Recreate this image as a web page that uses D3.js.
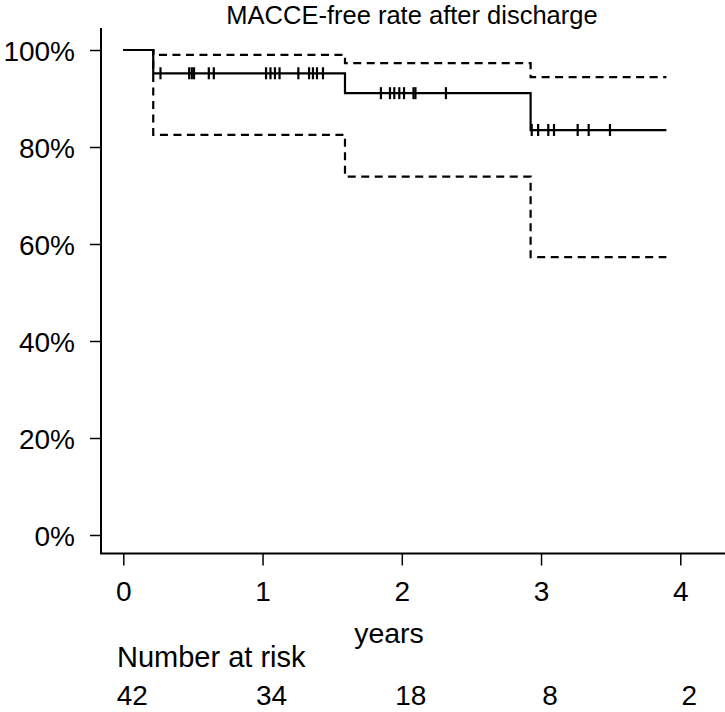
<!DOCTYPE html>
<html>
<head>
<meta charset="utf-8">
<script src="https://cdn.jsdelivr.net/npm/d3@7"></script>
<style>
  html, body { margin: 0; padding: 0; background: #fff; }
  svg text { font-family: "Liberation Sans", Arial, Helvetica, sans-serif; fill: #000; }
</style>
</head>
<body>
<svg id="chart" width="725" height="712"></svg>
<script>
// ---- data ----
const title = "MACCE-free rate after discharge";
const xLabel = "years";
const riskLabel = "Number at risk";
const xTicks = [0, 1, 2, 3, 4];
const yTicks = [0, 0.2, 0.4, 0.6, 0.8, 1.0];
const stepTimes = [0, 0.215, 1.592, 2.925];
const survival = [1, 0.952, 0.911, 0.835];
const upperCI = [1, 0.990, 0.973, 0.944];
const lowerCI = [1, 0.825, 0.739, 0.573];
const endTime = 3.90;
const censorTimes = [0.267, 0.473, 0.492, 0.508, 0.614, 0.650, 1.025, 1.057, 1.089, 1.122,
  1.257, 1.334, 1.362, 1.391, 1.434, 1.850, 1.915, 1.946, 1.982, 2.016, 2.084, 2.098, 2.317,
  2.933, 2.979, 3.052, 3.093, 3.263, 3.342, 3.495];
const riskTimes = [0, 1, 2, 3, 4];
const atRisk = [42, 34, 18, 8, 2];

// ---- layout ----
const svg = d3.select("#chart");
const x = d3.scaleLinear().domain([0, 4]).range([123.3, 680.3]);
const y = d3.scaleLinear().domain([0, 1]).range([535, 50]);
const axisX = 101, axisY = 553.5;

function stepData(vals) {
  const pts = stepTimes.map((t, i) => [t, vals[i]]);
  pts.push([endTime, vals[vals.length - 1]]);
  return pts;
}
const line = d3.line().x(d => x(d[0])).y(d => y(d[1])).curve(d3.curveStepAfter);

// frame lines
svg.append("line").attr("x1", axisX).attr("x2", axisX).attr("y1", 28).attr("y2", axisY)
  .attr("stroke", "#000").attr("stroke-width", 2);
svg.append("line").attr("x1", axisX - 1).attr("x2", 725).attr("y1", axisY).attr("y2", axisY)
  .attr("stroke", "#000").attr("stroke-width", 2);

// y axis
const gy = svg.append("g").attr("transform", `translate(${axisX},0)`)
  .call(d3.axisLeft(y).tickValues(yTicks).tickFormat(d3.format(".0%")).tickSize(11).tickPadding(15));
gy.select(".domain").remove();
gy.selectAll(".tick line").attr("stroke", "#000").attr("stroke-width", 1.5);
gy.selectAll(".tick text").attr("font-size", 28).attr("dy", "0.36em")
  .style("font-family", '"Liberation Sans", Arial, sans-serif');

// x axis
const gx = svg.append("g").attr("transform", `translate(0,${axisY})`)
  .call(d3.axisBottom(x).tickValues(xTicks).tickFormat(d3.format("d")).tickSize(12).tickPadding(16));
gx.select(".domain").remove();
gx.selectAll(".tick line").attr("stroke", "#000").attr("stroke-width", 1.5);
gx.selectAll(".tick text").attr("font-size", 28).attr("dy", "0.71em")
  .style("font-family", '"Liberation Sans", Arial, sans-serif');

// CI lines
[upperCI, lowerCI].forEach(v => {
  svg.append("path").attr("d", line(stepData(v))).attr("fill", "none")
    .attr("stroke", "#000").attr("stroke-width", 2.2).attr("stroke-dasharray", "8,5.5");
});

// survival line
svg.append("path").attr("d", line(stepData(survival))).attr("fill", "none")
  .attr("stroke", "#000").attr("stroke-width", 2.2);

// censor marks
function survAt(t) {
  let v = survival[0];
  stepTimes.forEach((st, i) => { if (t >= st) v = survival[i]; });
  return v;
}
svg.append("g").selectAll("line").data(censorTimes).join("line")
  .attr("x1", d => x(d)).attr("x2", d => x(d))
  .attr("y1", d => y(survAt(d)) - 6).attr("y2", d => y(survAt(d)) + 6)
  .attr("stroke", "#000").attr("stroke-width", 2.2);

// title
svg.append("text").attr("x", 412).attr("y", 24).attr("text-anchor", "middle")
  .attr("font-size", 25.5).text(title);
// x label
svg.append("text").attr("x", 389).attr("y", 643).attr("text-anchor", "middle")
  .attr("font-size", 28.5).text(xLabel);
// number at risk
svg.append("text").attr("x", 117).attr("y", 667).attr("text-anchor", "start")
  .attr("font-size", 29).text(riskLabel);
svg.append("g").selectAll("text").data(riskTimes).join("text")
  .attr("x", d => x(d) + 9).attr("y", 705).attr("text-anchor", "middle")
  .attr("font-size", 28).text((d, i) => atRisk[i]);
</script>
</body>
</html>
